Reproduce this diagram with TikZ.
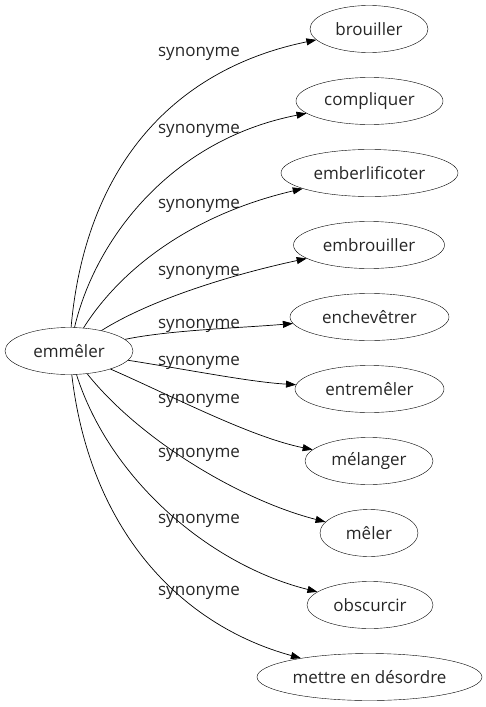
\documentclass[tikz,border=0pt]{standalone}
\usepackage{fontspec}
\setmainfont{Open Sans}
\usetikzlibrary{arrows.meta,shapes.geometric}
\begin{document}
\begin{tikzpicture}[x=1pt,y=-1pt,
  word/.style={draw,ellipse,inner sep=0pt,minimum height=47pt,font=\fontsize{17}{20}\selectfont,text=black!85},
  lbl/.style={font=\fontsize{17}{20}\selectfont,text=black!85,inner sep=0pt},
  syn/.style={-{Triangle[length=10pt,width=7pt]},line width=0.7pt}]
\useasboundingbox (0,0) rectangle (486,707);
\node[word,minimum width=128pt] (e) at (69,351) {emmêler};
\node[word,minimum width=118pt] (n1) at (369,29) {brouiller};
\node[word,minimum width=147pt] (n2) at (369.5,101) {compliquer};
\node[word,minimum width=177pt] (n3) at (369.5,173) {emberlificoter};
\node[word,minimum width=151pt] (n4) at (369,245) {embrouiller};
\node[word,minimum width=159pt] (n5) at (369.5,317) {enchevêtrer};
\node[word,minimum width=149pt] (n6) at (369.5,389) {entremêler};
\node[word,minimum width=128pt] (n7) at (369,461) {mélanger};
\node[word,minimum width=98pt] (n8) at (369,533) {mêler};
\node[word,minimum width=126pt] (n9) at (370,605) {obscurcir};
\node[word,minimum width=225pt] (n10) at (369.5,677) {mettre en désordre};
\node[lbl] (l1) at (199,54) {synonyme};
\node[lbl] (l2) at (199,131) {synonyme};
\node[lbl] (l3) at (199,206) {synonyme};
\node[lbl] (l4) at (199,273) {synonyme};
\node[lbl] (l5) at (199,326) {synonyme};
\node[lbl] (l6) at (199,363) {synonyme};
\node[lbl] (l7) at (199,401) {synonyme};
\node[lbl] (l8) at (199,455) {synonyme};
\node[lbl] (l9) at (199,521) {synonyme};
\node[lbl] (l10) at (199,593) {synonyme};
\draw[syn] (e) .. controls (85,170) and (170,70) .. (n1);
\draw[syn] (e) .. controls (95,240) and (170,140) .. (n2);
\draw[syn] (e) .. controls (120,270) and (190,215) .. (n3);
\draw[syn] (e) .. controls (150,300) and (230,275) .. (n4);
\draw[syn] (e) .. controls (170,330) and (240,328) .. (n5);
\draw[syn] (e) .. controls (190,370) and (250,382) .. (n6);
\draw[syn] (e) .. controls (170,395) and (250,437) .. (n7);
\draw[syn] (e) .. controls (140,440) and (240,500) .. (n8);
\draw[syn] (e) .. controls (110,480) and (210,565) .. (n9);
\draw[syn] (e) .. controls (90,530) and (180,625) .. (n10);
\end{tikzpicture}
\end{document}
